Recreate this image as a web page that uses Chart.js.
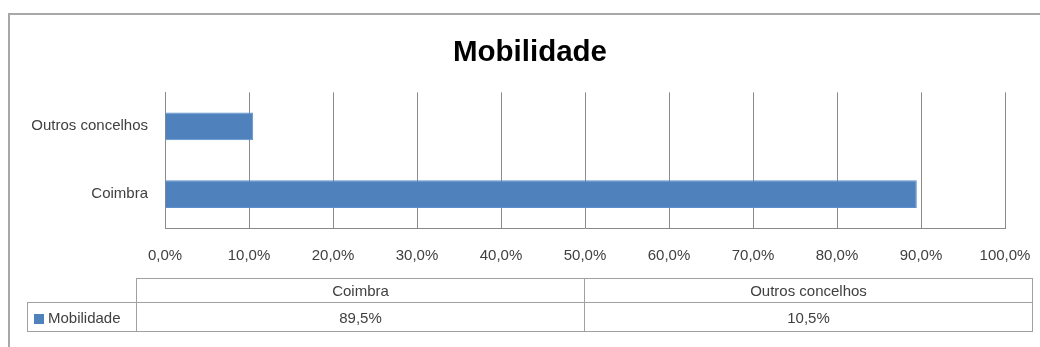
<!DOCTYPE html>
<html>
<head>
<meta charset="utf-8">
<script src="https://cdn.jsdelivr.net/npm/chart.js@4/dist/chart.umd.min.js"></script>
<style>
  body { margin: 0; background: #fff; }
  #wrap { position: relative; width: 1040px; height: 347px; overflow: hidden; }
  #frame { position: absolute; left: 8px; top: 13px; width: 1100px; height: 400px; border: 2px solid #a8a8a8; }
  #js--grafiek { position: absolute; left: 0; top: 0; }
  #js--tabela { position: absolute; left: 27px; top: 278px; border-collapse: collapse; table-layout: fixed;
    font-family: "Liberation Sans", Arial, sans-serif; font-size: 15px; color: #404040; }
  #js--tabela td { border: 1px solid #a0a0a0; padding: 0; text-align: center; white-space: nowrap; }
  #js--tabela td.leeg { border: none; }
  #js--tabela tr.kop td { height: 23px; }
  #js--tabela tr.rij td { height: 28px; }
  #js--tabela td.serie { text-align: left; padding-left: 6px; }
  .sleutel { display: inline-block; width: 10px; height: 10px; background: #4f81bd; margin-right: 4px; vertical-align: -1px; }
</style>
</head>
<body>
<div id="wrap">
  <div id="frame"></div>
  <canvas id="js--grafiek" width="1040" height="347"></canvas>
  <table id="js--tabela"></table>
</div>
<script>
const labels = ["Coimbra", "Outros concelhos"];
const mobilidade = [89.5, 10.5];
const xTicks = [0, 10, 20, 30, 40, 50, 60, 70, 80, 90, 100];

const fontFamily = '"Liberation Sans", Arial, sans-serif';

function pct(v) {
  return v.toFixed(1).replace(".", ",") + "%";
}

// data table under the chart
const tabel = document.getElementById("js--tabela");
let kop = '<colgroup><col style="width:109px">';
labels.forEach(function () { kop += '<col style="width:448px">'; });
kop += '</colgroup><tr class="kop"><td class="leeg"></td>';
labels.forEach(function (l) { kop += "<td>" + l + "</td>"; });
kop += '</tr><tr class="rij"><td class="serie"><span class="sleutel"></span>Mobilidade</td>';
mobilidade.forEach(function (v) { kop += "<td>" + pct(v) + "</td>"; });
kop += "</tr>";
tabel.innerHTML = kop;

// centre the title on the whole frame instead of the padded layout box
const titelMidden = {
  id: "titelMidden",
  afterLayout: function (chart) {
    if (chart.titleBlock) {
      chart.titleBlock.left = 55;
    }
  }
};

const config = {
  type: "bar",
  data: {
    labels: labels,
    datasets: [
      {
        label: "Mobilidade",
        data: mobilidade,
        backgroundColor: "#4f81bd",
        borderColor: "#5b8fd0",
        borderWidth: 1,
        barPercentage: 0.41,
        categoryPercentage: 1
      }
    ]
  },
  options: {
    indexAxis: "y",
    responsive: false,
    animation: false,
    layout: { padding: { left: 0, right: 35, top: 0, bottom: 77 } },
    plugins: {
      legend: { display: false },
      tooltip: { enabled: false },
      title: {
        display: true,
        text: "Mobilidade",
        color: "#000",
        font: { family: fontFamily, size: 29.5, weight: "bold" },
        padding: { top: 35, bottom: 22 }
      }
    },
    scales: {
      x: {
        min: 0,
        max: 100,
        afterFit: function (scale) {
          scale.height = 42;
          scale.paddingLeft = 0;
          scale.paddingRight = 0;
        },
        afterBuildTicks: function (scale) {
          scale.ticks = xTicks.map(function (v) { return { value: v }; });
        },
        grid: { color: "#8a8a8a", lineWidth: 1, drawTicks: false },
        border: { display: true, color: "#8a8a8a", width: 1 },
        ticks: {
          padding: 19,
          color: "#404040",
          font: { family: fontFamily, size: 15 },
          maxRotation: 0,
          callback: function (v) { return pct(v); }
        }
      },
      y: {
        reverse: true,
        afterFit: function (scale) {
          scale.width = 165;
          scale.paddingTop = 0;
          scale.paddingBottom = 0;
        },
        grid: { display: false, drawTicks: false },
        border: { display: true, color: "#8a8a8a", width: 1 },
        ticks: {
          padding: 17,
          color: "#404040",
          font: { family: fontFamily, size: 15 }
        }
      }
    }
  },
  plugins: [titelMidden]
};

const chart = new Chart(document.getElementById("js--grafiek"), config);
</script>
</body>
</html>
